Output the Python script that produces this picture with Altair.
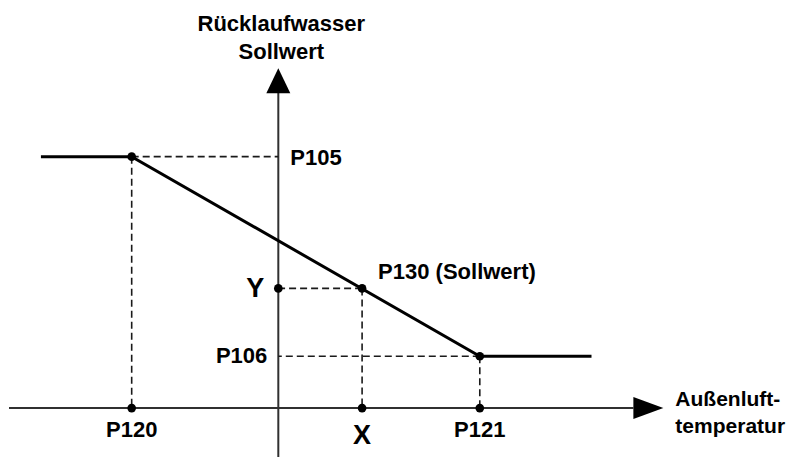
import altair as alt
import pandas as pd

# --- diagram values (logical units, origin at the axis intersection) ---
x_labels = ["P120", "X", "P121"]
x_values = [-147, 84, 202]
y_labels = ["P105", "Y", "P106"]
y_values = [252, 120, 52]

curve_x = [-238, -147, 202, 314]
curve_y = [252, 252, 52, 52]

x_axis_extent = [-270, 356]
y_axis_extent = [-49, 316]
x_arrow_at = 371
y_arrow_at = 328

y_title = ["Rücklaufwasser", "Sollwert"]
x_title = ["Außenluft-", "temperatur"]
point_label = "P130 (Sollwert)"

X_DOMAIN = [-269, 510]
Y_DOMAIN = [-49, 401]

FONT = "Liberation Sans"


def X(field="x"):
    return alt.X(f"{field}:Q", scale=alt.Scale(domain=X_DOMAIN, nice=False, zero=False), axis=None)


def Y(field="y"):
    return alt.Y(f"{field}:Q", scale=alt.Scale(domain=Y_DOMAIN, nice=False, zero=False), axis=None)


keys = pd.DataFrame({"x": x_values, "y": y_values})

# axes
axes_df = pd.DataFrame({
    "x": [x_axis_extent[0], 0],
    "x2": [x_axis_extent[1], 0],
    "y": [0, y_axis_extent[0]],
    "y2": [0, y_axis_extent[1]],
})
axes = alt.Chart(axes_df).mark_rule(color="#303030", strokeWidth=2).encode(
    x=X(), x2="x2:Q", y=Y(), y2="y2:Q"
)

# dashed guides
guides_df = pd.DataFrame({
    "x": list(keys["x"]) + list(keys["x"]),
    "x2": list(keys["x"]) + [0] * len(keys),
    "y": list(keys["y"]) + list(keys["y"]),
    "y2": [0] * len(keys) + list(keys["y"]),
})
guides = alt.Chart(guides_df).mark_rule(
    color="#1a1a1a", strokeWidth=1.6, strokeDash=[7, 4]
).encode(x=X(), x2="x2:Q", y=Y(), y2="y2:Q")

# curve
curve_df = pd.DataFrame({"x": curve_x, "y": curve_y, "o": range(len(curve_x))})
curve = alt.Chart(curve_df).mark_line(color="black", strokeWidth=3).encode(
    x=X(), y=Y(), order="o:O"
)

# dots
dots_df = pd.DataFrame({
    "x": x_values + x_values + [0],
    "y": y_values + [0, 0, 0] + [y_values[1]],
})
dots = alt.Chart(dots_df).mark_circle(color="black", size=75, opacity=1).encode(x=X(), y=Y())

# arrowheads
arr_r = alt.Chart(pd.DataFrame({"x": [x_arrow_at], "y": [0]})).mark_point(
    shape="M -1 -0.733 L 1 0 L -1 0.733 Z", filled=True, color="black", size=900, opacity=1
).encode(x=X(), y=Y())
arr_u = alt.Chart(pd.DataFrame({"x": [0], "y": [y_arrow_at]})).mark_point(
    shape="M -0.96 1 L 0 -1 L 0.96 1 Z", filled=True, color="black", size=625, opacity=1
).encode(x=X(), y=Y())

txt = dict(font=FONT, fontWeight="bold", color="black")
FS = 22
FB = 27
FT = 21

# x tick labels
xl = pd.DataFrame({"x": x_values, "y": [0] * 3, "t": x_labels})
xlab_small = alt.Chart(xl[xl.t != "X"]).mark_text(
    align="center", baseline="middle", fontSize=FS, dy=22, **txt
).encode(x=X(), y=Y(), text="t:N")
xlab_big = alt.Chart(xl[xl.t == "X"]).mark_text(
    align="center", baseline="middle", fontSize=FB, dy=28, **txt
).encode(x=X(), y=Y(), text="t:N")

# y tick labels
yl = pd.DataFrame({"x": [0] * 3, "y": y_values, "t": y_labels})
ylab_105 = alt.Chart(yl[yl.t == "P105"]).mark_text(
    align="left", baseline="middle", fontSize=FS, dx=12, dy=1, **txt
).encode(x=X(), y=Y(), text="t:N")
ylab_106 = alt.Chart(yl[yl.t == "P106"]).mark_text(
    align="right", baseline="middle", fontSize=FS, dx=-11, dy=0, **txt
).encode(x=X(), y=Y(), text="t:N")
ylab_y = alt.Chart(yl[yl.t == "Y"]).mark_text(
    align="right", baseline="middle", fontSize=FB, dx=-14, dy=1, **txt
).encode(x=X(), y=Y(), text="t:N")

# point label
pl = alt.Chart(pd.DataFrame({"x": [x_values[1]], "y": [y_values[1]], "t": [point_label]})).mark_text(
    align="left", baseline="middle", fontSize=FS, dx=16, dy=-16, **txt
).encode(x=X(), y=Y(), text="t:N")

# axis titles
yt1 = alt.Chart(pd.DataFrame({"x": [3], "y": [y_arrow_at], "t": [y_title[0]]})).mark_text(
    align="center", baseline="middle", fontSize=FS, dy=-57, **txt
).encode(x=X(), y=Y(), text="t:N")
yt2 = alt.Chart(pd.DataFrame({"x": [3], "y": [y_arrow_at], "t": [y_title[1]]})).mark_text(
    align="center", baseline="middle", fontSize=FS, dy=-29, **txt
).encode(x=X(), y=Y(), text="t:N")
xt1 = alt.Chart(pd.DataFrame({"x": [x_arrow_at], "y": [0], "t": [x_title[0]]})).mark_text(
    align="left", baseline="middle", fontSize=FT, dx=27, dy=-8, **txt
).encode(x=X(), y=Y(), text="t:N")
xt2 = alt.Chart(pd.DataFrame({"x": [x_arrow_at], "y": [0], "t": [x_title[1]]})).mark_text(
    align="left", baseline="middle", fontSize=FT, dx=27, dy=19, **txt
).encode(x=X(), y=Y(), text="t:N")

chart = alt.layer(
    axes, guides, curve, dots, arr_r, arr_u,
    xlab_small, xlab_big, ylab_105, ylab_106, ylab_y, pl, yt1, yt2, xt1, xt2
).properties(
    width=779, height=450,
    autosize=alt.AutoSizeParams(type="fit", contains="padding"),
    padding=0,
    background="white",
).configure_view(stroke=None)

chart.save("out.html", embed_options={"renderer": "svg", "actions": False})
